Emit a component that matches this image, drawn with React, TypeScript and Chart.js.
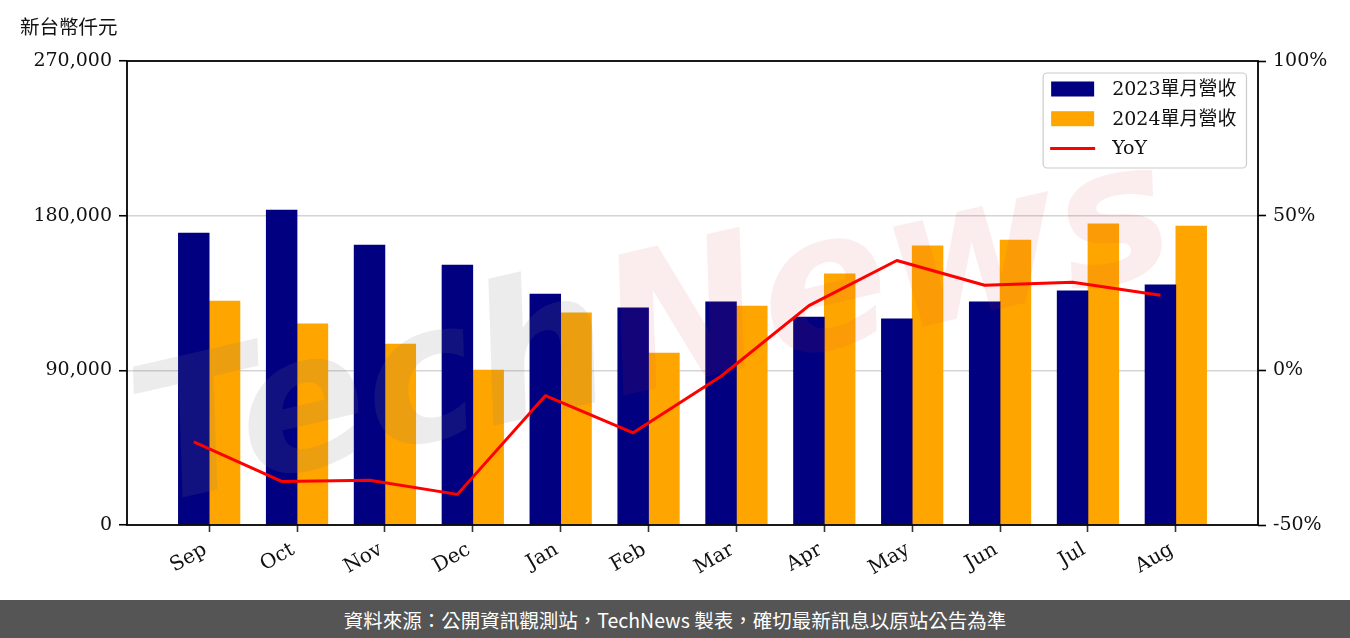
import React, { useEffect, useRef } from "react";
import { Chart, registerables } from "chart.js";

Chart.register(...registerables);

const months = ["Sep", "Oct", "Nov", "Dec", "Jan", "Feb", "Mar", "Apr", "May", "Jun", "Jul", "Aug"];
const revenue2023 = [169900, 183300, 162900, 151300, 134400, 126300, 129800, 121000, 119900, 129800, 136200, 139700];
const revenue2024 = [130300, 117000, 105300, 90200, 123400, 100100, 127400, 146100, 162400, 165800, 175200, 174000];
const yoy = [-23.1, -35.9, -35.5, -40.1, -8.2, -20.2, -1.9, 20.9, 35.5, 27.5, 28.5, 24.3];
const leftTicks = [0, 90000, 180000, 270000];
const rightTicks = [-50, 0, 50, 100];
const seriesLabels = ["2023單月營收", "2024單月營收", "YoY"];
const unitLabel = "新台幣仟元";
const footerText = "資料來源：公開資訊觀測站，TechNews 製表，確切最新訊息以原站公告為準";

const NAVY = "#000080";
const ORANGE = "#FFA500";
const RED = "#FF0000";
const SERIF = '"DejaVu Serif", "Noto Sans CJK TC", serif';
const CJK = '"Noto Sans CJK TC", sans-serif';
const tickFont = { family: SERIF, size: 19 };
const xTickFont = { family: SERIF, size: 20 };

const decorPlugin = {
  id: "decor",
  beforeDatasetDraw(chart: any, args: any) {
    if (chart.data.datasets[args.index].type !== "line") return;
    const { ctx, chartArea: a } = chart;
    ctx.save();
    ctx.beginPath();
    ctx.rect(a.left, a.top, a.right - a.left, a.bottom - a.top);
    ctx.clip();
    ctx.translate(150, 505);
    ctx.rotate((-13 * Math.PI) / 180);
    ctx.font = 'italic bold 190px "DejaVu Sans", sans-serif';
    ctx.textBaseline = "alphabetic";
    ctx.fillStyle = "rgba(120,120,120,0.14)";
    ctx.fillText("Tech", 0, 0);
    const w = ctx.measureText("Tech").width;
    ctx.fillStyle = "rgba(215,60,60,0.09)";
    ctx.fillText("News", w, 0);
    ctx.restore();
  },
  afterDraw(chart: any) {
    const { ctx, chartArea: a } = chart;
    ctx.save();
    // frame
    ctx.strokeStyle = "#000";
    ctx.lineWidth = 1.8;
    ctx.strokeRect(a.left, a.top, a.right - a.left, a.bottom - a.top);
    // unit title
    ctx.font = "19.5px " + CJK;
    ctx.fillStyle = "#111";
    ctx.textBaseline = "middle";
    ctx.textAlign = "left";
    ctx.fillText(unitLabel, 20, 27);
    // legend
    ctx.font = "19px " + SERIF;
    const ds = chart.data.datasets;
    let tw = 0;
    ds.forEach((d: any) => {
      tw = Math.max(tw, ctx.measureText(d.label).width);
    });
    const right = a.right - 11.5;
    const top = a.top + 12;
    const boxW = 69 + tw + 10;
    const boxH = 95;
    const left = right - boxW;
    ctx.beginPath();
    ctx.roundRect(left, top, boxW, boxH, 4);
    ctx.fillStyle = "rgba(255,255,255,0.8)";
    ctx.fill();
    ctx.strokeStyle = "#cccccc";
    ctx.lineWidth = 1.2;
    ctx.stroke();
    const order = [1, 2, 0];
    order.forEach((di, row) => {
      const d = ds[di];
      const yc = top + 16 + row * 29.7;
      if (d.type === "line") {
        ctx.beginPath();
        ctx.strokeStyle = d.borderColor;
        ctx.lineWidth = 3;
        ctx.moveTo(left + 7, yc);
        ctx.lineTo(left + 52, yc);
        ctx.stroke();
      } else {
        ctx.fillStyle = d.backgroundColor;
        ctx.fillRect(left + 8, yc - 7.5, 43, 15);
      }
      ctx.fillStyle = "#111";
      ctx.textBaseline = "middle";
      ctx.fillText(d.label, left + 69, yc + 1);
    });
    ctx.restore();
  },
};

export default function App() {
  const ref = useRef<HTMLCanvasElement>(null);
  useEffect(() => {
    const chart = new Chart(ref.current as HTMLCanvasElement, {
      data: {
        datasets: [
          {
            type: "line",
            label: seriesLabels[2],
            data: yoy.map((v, i) => ({ x: i, y: v })),
            xAxisID: "xLine",
            yAxisID: "y1",
            borderColor: RED,
            backgroundColor: RED,
            borderWidth: 3,
            pointRadius: 0,
            tension: 0,
            fill: false,
            borderJoinStyle: "round",
            order: 0,
          },
          {
            type: "bar",
            label: seriesLabels[0],
            data: revenue2023.map((v, i) => ({ x: i, y: v })),
            xAxisID: "x",
            yAxisID: "y",
            backgroundColor: NAVY,
            borderWidth: 0,
            barThickness: 30.8,
            order: 1,
          },
          {
            type: "bar",
            label: seriesLabels[1],
            data: revenue2024.map((v, i) => ({ x: i, y: v })),
            xAxisID: "x",
            yAxisID: "y",
            backgroundColor: ORANGE,
            borderWidth: 0,
            barThickness: 30.8,
            order: 2,
          },
        ],
      } as any,
      options: {
        responsive: false,
        animation: false,
        devicePixelRatio: 1,
        layout: { padding: { top: 61, left: 0, right: 0, bottom: 0 } },
        plugins: { legend: { display: false }, tooltip: { enabled: false } },
        scales: {
          x: {
            type: "linear",
            position: "bottom",
            offset: false,
            min: -0.935,
            max: 11.935,
            afterBuildTicks: (s: any) => {
              s.ticks = months.map((_, i) => ({ value: i }));
            },
            afterFit: (s: any) => {
              s.height = 75;
            },
            grid: { offset: false, drawOnChartArea: false, tickLength: 7, tickColor: "#333", tickWidth: 1.6 },
            border: { display: false },
            ticks: {
              callback: (_v: any, i: number) => months[i],
              minRotation: 30,
              maxRotation: 30,
              autoSkip: false,
              padding: 6,
              labelOffset: -4,
              color: "#111",
              font: xTickFont,
            },
          },
          xLine: {
            type: "linear",
            display: false,
            offset: false,
            min: -0.76,
            max: 12.11,
          },
          y: {
            type: "linear",
            position: "left",
            min: 0,
            max: 270000,
            afterBuildTicks: (s: any) => {
              s.ticks = leftTicks.map((v) => ({ value: v }));
            },
            afterFit: (s: any) => {
              s.width = 127;
            },
            grid: {
              color: (c: any) =>
                c.tick && (c.tick.value === 0 || c.tick.value === 270000) ? "rgba(0,0,0,0)" : "#d4d4d4",
              lineWidth: 1.5,
              tickLength: 8,
              tickColor: "#000",
              tickWidth: 1.6,
            },
            border: { display: false },
            ticks: {
              callback: (v: any) => Number(v).toLocaleString("en-US"),
              padding: 7,
              color: "#111",
              font: tickFont,
            },
          },
          y1: {
            type: "linear",
            position: "right",
            min: -50,
            max: 100,
            afterBuildTicks: (s: any) => {
              s.ticks = rightTicks.map((v) => ({ value: v }));
            },
            afterFit: (s: any) => {
              s.width = 92;
            },
            grid: { drawOnChartArea: false, tickLength: 8, tickColor: "#000", tickWidth: 1.6 },
            border: { display: false },
            ticks: {
              callback: (v: any) => v + "%",
              padding: 7,
              color: "#111",
              font: tickFont,
            },
          },
        },
      } as any,
      plugins: [decorPlugin],
    });
    return () => chart.destroy();
  }, []);

  return (
    <div style={{ position: "absolute", left: 0, top: 0, width: 1350, height: 638, background: "#fff" }}>
      <canvas ref={ref} width={1350} height={600} style={{ display: "block", width: 1350, height: 600 }} />
      <div
        style={{
          position: "absolute",
          left: 0,
          top: 600,
          width: 1350,
          height: 38,
          background: "#555555",
          color: "#fff",
          display: "flex",
          alignItems: "center",
          justifyContent: "center",
          fontFamily: CJK,
          fontSize: 19.5,
        }}
      >
        {footerText}
      </div>
    </div>
  );
}
